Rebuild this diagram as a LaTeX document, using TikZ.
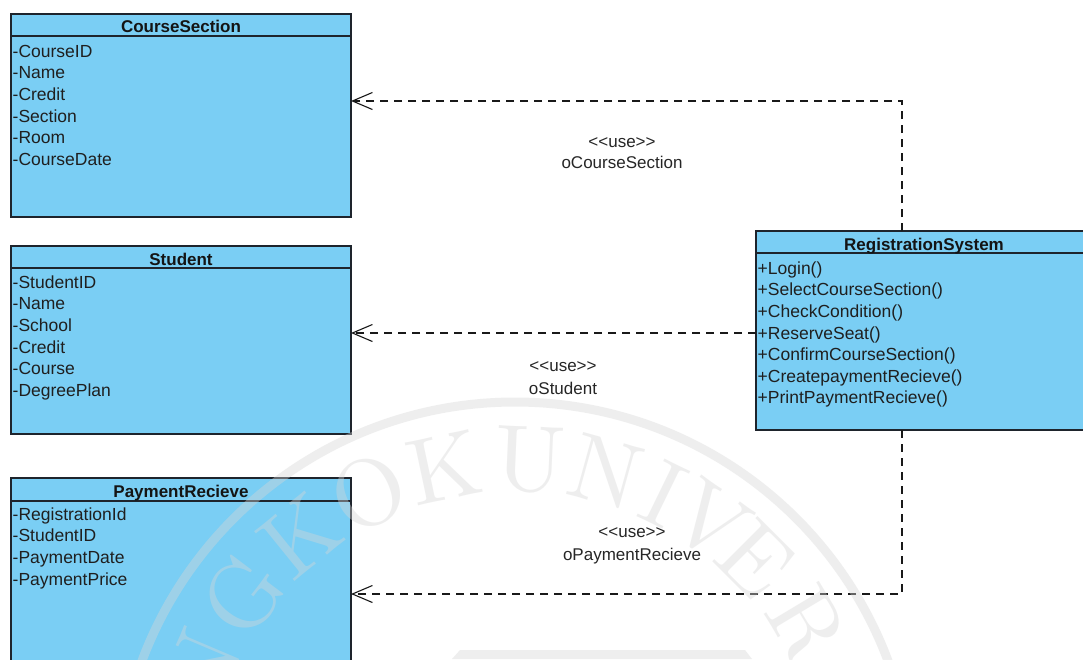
\documentclass[tikz,border=0pt]{standalone}
\usepackage{fontspec}
\setmainfont{Liberation Sans}
\newfontfamily\sealfont[Extension=.otf]{lmroman10-regular}
\usetikzlibrary{arrows.meta,calc}
\definecolor{classblue}{RGB}{122,206,244}
\definecolor{classline}{RGB}{30,36,44}
\definecolor{sealgray}{RGB}{214,214,214}
\begin{document}
\begin{tikzpicture}[x=1pt,y=-1pt,
  classbox/.style={draw=classline, line width=1.4pt, fill=classblue,
    inner sep=0pt, outer sep=0pt, anchor=north west},
  sepline/.style={draw=classline, line width=1.4pt},
  head/.style={font=\fontsize{17}{17}\selectfont\bfseries, anchor=base,
    inner sep=0pt, text=black!92},
  member/.style={font=\fontsize{17.5}{17.5}\selectfont, anchor=base west,
    inner sep=0pt, text=black!88},
  tag/.style={font=\fontsize{17}{17}\selectfont, anchor=base, inner sep=0pt,
    text=black!85},
  dep/.style={draw=black!90, line width=1.3pt, dash pattern=on 8pt off 6pt,
    -{Straight Barb[length=20pt,width=17pt,line width=1.1pt]}},
  seal/.style={font=\sealfont\fontsize{94}{94}\selectfont, text=sealgray,
    inner sep=0pt, anchor=center},
]
\useasboundingbox (0,0) rectangle (1083,659);
\fill[white] (0,0) rectangle (1083,659);

% ---------- classes ----------
\node[classbox, minimum width=340pt, minimum height=203pt] (cs) at (11,14) {};
\draw[sepline] ($(cs.north west)+(0,22)$) -- ($(cs.north east)+(0,22)$);
\node[head] (cs-title) at ($(cs.north)+(0,18)$) {CourseSection};
\foreach \t [count=\i from 0] in {-CourseID,-Name,-Credit,-Section,-Room,-CourseDate}
  \node[member] (cs-\i) at ($(cs.north west)+(1.5,43.3+21.6*\i)$) {\t};

\node[classbox, minimum width=340pt, minimum height=188pt] (st) at (11,246) {};
\draw[sepline] ($(st.north west)+(0,22)$) -- ($(st.north east)+(0,22)$);
\node[head] (st-title) at ($(st.north)+(0,19)$) {Student};
\foreach \t [count=\i from 0] in {-StudentID,-Name,-School,-Credit,-Course,-DegreePlan}
  \node[member] (st-\i) at ($(st.north west)+(1.5,42.3+21.6*\i)$) {\t};

\node[classbox, minimum width=340pt, minimum height=200pt] (pr) at (11,478) {};
\draw[sepline] ($(pr.north west)+(0,23)$) -- ($(pr.north east)+(0,23)$);
\node[head] (pr-title) at ($(pr.north)+(0,19)$) {PaymentRecieve};
\foreach \t [count=\i from 0] in {-RegistrationId,-StudentID,-PaymentDate,-PaymentPrice}
  \node[member] (pr-\i) at ($(pr.north west)+(1.5,42.3+21.6*\i)$) {\t};

\node[classbox, minimum width=336pt, minimum height=199pt] (reg) at (756,231) {};
\draw[sepline] ($(reg.north west)+(0,22)$) -- ($(reg.north east)+(0,22)$);
\node[head] (reg-title) at ($(reg.north)+(0,19)$) {RegistrationSystem};
\foreach \t [count=\i from 0] in {+Login(),+SelectCourseSection(),+CheckCondition(),
    +ReserveSeat(),+ConfirmCourseSection(),+CreatepaymentRecieve(),+PrintPaymentRecieve()}
  \node[member] (reg-\i) at ($(reg.north west)+(1.5,43.3+21.6*\i)$) {\t};

% ---------- dependencies ----------
\coordinate (csPort) at ($(cs.north east)+(0,87)$);
\coordinate (prPort) at ($(pr.north east)+(0,116)$);
\draw[dep] ([xshift=146pt]reg.north west) |- (csPort);
\draw[dep] ($(reg.north west)+(0,102)$) -- ($(st.north east)+(0,87)$);
\draw[dep] ([xshift=146pt]reg.south west) |- (prPort);

\node[tag] (csUse)  at (622,147.5) {<{}<use>{}>};
\node[tag] (csName) at (622,168.5) {oCourseSection};
\node[tag] (stUse)  at (563,371.5) {<{}<use>{}>};
\node[tag] (stName) at (563,394.5) {oStudent};
\node[tag] (prUse)  at (632,537.5) {<{}<use>{}>};
\node[tag] (prName) at (632,560.5) {oPaymentRecieve};

% ---------- university seal in the background ----------
\begin{scope}[opacity=0.4]
  \coordinate (sealC) at (515,800);
  \draw[sealgray, line width=9pt] (sealC) circle[radius=398pt];
  \fill[sealgray] (452,659) -- (460,650) -- (745,650) -- (752,659) -- cycle;
  \foreach \l/\a in {N/157,G/143,K/129,O/115.5,K/102,U/87.5,N/74.5,I/64,V/55,E/45,R/31,S/19}
    \node[seal, rotate=\a-90] at ($(sealC)+(\a:340pt)$) {\l};
\end{scope}
\end{tikzpicture}
\end{document}
